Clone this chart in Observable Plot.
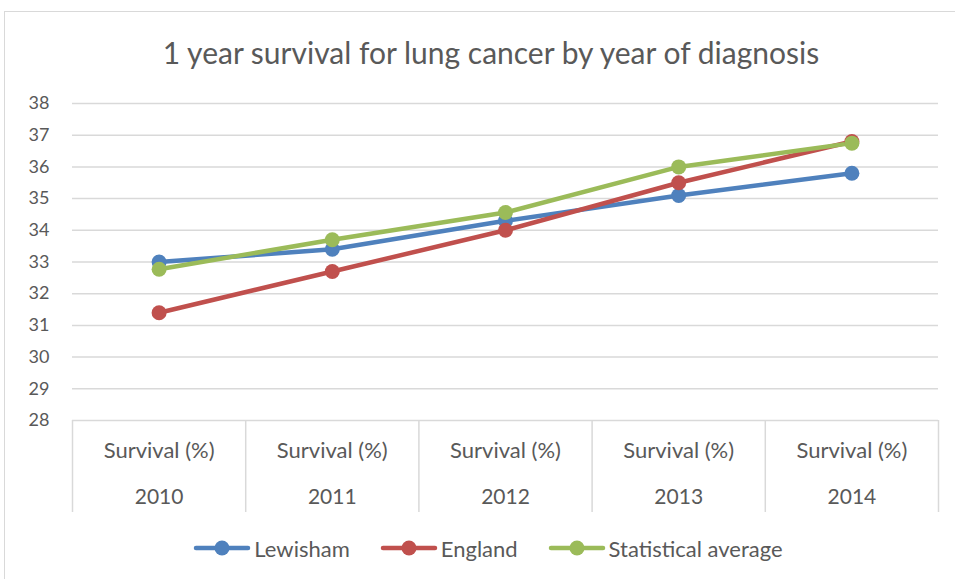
<!DOCTYPE html>
<html>
<head>
<meta charset="utf-8">
<script src="https://cdn.jsdelivr.net/npm/d3@7"></script>
<script src="https://cdn.jsdelivr.net/npm/@observablehq/plot@0.6"></script>
<style>
  html, body { margin: 0; padding: 0; background: #fff; overflow: hidden; }
  #wrap { position: absolute; left: 4px; top: 11px; width: 960px; height: 580px; border: 1px solid #d9d9d9; box-sizing: border-box; font-family: Lato, "Open Sans", sans-serif; color: #595959; }
  #title { height: 80px; line-height: 80px; text-align: center; font-size: 30px; padding-left: 14px; }
  #legend { height: 56px; display: flex; justify-content: center; align-items: center; gap: 30px; font-size: 22px; padding-left: 8px; }
  .item { display: flex; align-items: center; gap: 3px; }
  svg { display: block; }
</style>
</head>
<body>
<div id="wrap">
  <div id="title">1 year survival for lung cancer by year of diagnosis</div>
  <div id="chart"></div>
  <div id="legend"></div>
</div>
<script>
const years = [2010, 2011, 2012, 2013, 2014];
const categoryLabel = "Survival (%)";
const seriesNames = ["Lewisham", "England", "Statistical average"];
const lewisham = [33.0, 33.4, 34.3, 35.1, 35.8];
const england = [31.4, 32.7, 34.0, 35.5, 36.8];
const statAvg = [32.77, 33.7, 34.56, 36.0, 36.75];
const colors = ["#4f81bd", "#c0504d", "#9bbb59"];
const yTicks = [28, 29, 30, 31, 32, 33, 34, 35, 36, 37, 38];

const seriesValues = [lewisham, england, statAvg];
const data = seriesNames.flatMap((name, i) =>
  years.map((yr, j) => ({series: name, year: yr, value: seriesValues[i][j]})));
const boundaries = years.map(y => y - 0.5).concat([years[years.length - 1] + 0.5]);

const plot = Plot.plot({
  width: 950,
  height: 428,
  marginLeft: 67,
  marginRight: 17,
  marginTop: 11,
  marginBottom: 100,
  style: {fontFamily: "Lato, 'Open Sans', sans-serif", fontSize: "18px", color: "#595959"},
  x: {type: "linear", domain: [boundaries[0], boundaries[boundaries.length - 1]]},
  y: {domain: [28, 38]},
  color: {domain: seriesNames, range: colors},
  marks: [
    Plot.ruleY(yTicks, {stroke: "#d9d9d9", strokeWidth: 1.5, strokeOpacity: 1}),
    Plot.axisY({ticks: yTicks, tickSize: 0, tickPadding: 23, fill: "#595959", fontSize: 18, label: null}),
    Plot.axisX({ticks: boundaries, tickSize: 92, tickFormat: () => "", stroke: "#d9d9d9", strokeWidth: 1.5, strokeOpacity: 1, label: null}),
    Plot.axisX({ticks: years, tickSize: 0, tickPadding: 22, tickFormat: () => categoryLabel, fill: "#595959", fontSize: 22, label: null}),
    Plot.axisX({ticks: years, tickSize: 0, tickPadding: 69, tickFormat: d => String(d), fill: "#595959", fontSize: 21, label: null}),
    Plot.line(data, {x: "year", y: "value", z: "series", stroke: "series", strokeWidth: 4.5, strokeLinecap: "round", strokeLinejoin: "round"}),
    Plot.dot(data, {x: "year", y: "value", fill: "series", r: 7.5, stroke: "none"})
  ]
});
document.getElementById("chart").appendChild(plot);

const legend = document.getElementById("legend");
seriesNames.forEach((name, i) => {
  const item = document.createElement("div");
  item.className = "item";
  item.innerHTML = `<svg width="58" height="18"><line x1="3" x2="55" y1="9" y2="9" stroke="${colors[i]}" stroke-width="4.5" stroke-linecap="round"/><circle cx="29" cy="9" r="7.5" fill="${colors[i]}"/></svg><span>${name}</span>`;
  legend.appendChild(item);
});
</script>
</body>
</html>
